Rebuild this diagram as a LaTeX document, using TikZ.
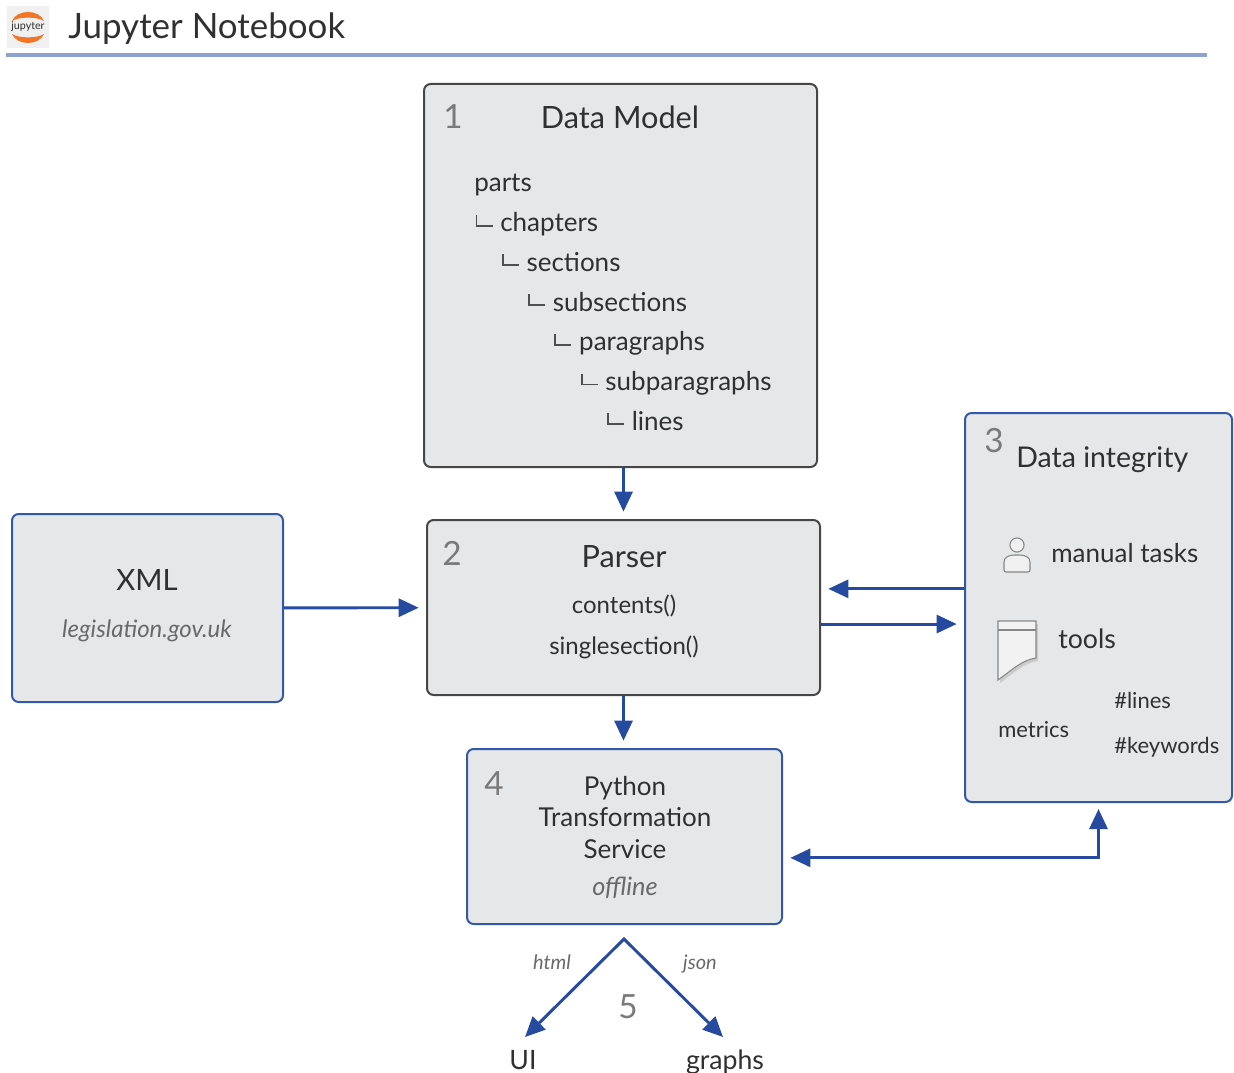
\documentclass[tikz,border=0pt]{standalone}
\usepackage{fontspec}
\setmainfont{Lato}
\usepackage{xcolor}
\usetikzlibrary{arrows.meta,fit}
\definecolor{boxgray}{RGB}{230,231,232}
\definecolor{edgedark}{RGB}{70,70,70}
\definecolor{edgeblue}{RGB}{52,88,168}
\definecolor{arrowblue}{RGB}{38,74,160}
\definecolor{txt}{RGB}{48,48,48}
\definecolor{numgray}{RGB}{122,122,122}
\definecolor{subgray}{RGB}{105,105,105}
\definecolor{rulebl}{RGB}{140,162,208}
\definecolor{jorange}{RGB}{240,118,40}
\definecolor{logobg}{RGB}{240,240,240}
\definecolor{icongray}{RGB}{135,135,135}

\begin{document}
\begin{tikzpicture}[x=0.75pt, y=-0.75pt,
    >={Triangle[length=15pt,width=13.5pt]},
    box/.style={draw=edgedark, line width=1.5pt, fill=boxgray, rounded corners=5pt, inner sep=0pt},
    bluebox/.style={box, draw=edgeblue},
    num/.style={anchor=base west, inner sep=0pt, text=numgray, font=\fontsize{25}{25}\selectfont},
    head/.style={anchor=base, inner sep=0pt, text=txt, font=\fontsize{23}{23}\selectfont},
    itemtext/.style={anchor=base, inner sep=0pt, text=txt, font=\fontsize{18}{18}\selectfont},
    smalltext/.style={anchor=base west, inner sep=0pt, text=txt, font=\fontsize{16.5}{16.5}\selectfont},
    note/.style={anchor=base, inner sep=0pt, text=subgray, font=\itshape\fontsize{18}{18}\selectfont},
    treeitem/.style={anchor=base west, inner sep=0pt, text=txt, font=\fontsize{19.5}{19.5}\selectfont},
    treeline/.style={draw=txt!85, line width=1.4pt},
    flow/.style={draw=arrowblue, line width=2.2pt, ->, shorten >=5.5pt},
    icon/.style={draw=icongray, line width=0.8pt, fill=logobg}]
    \useasboundingbox (0,0) rectangle (1234,1073);

    % header
    \fill[logobg] (7,6) rectangle (49,48);
    \fill[jorange] (12,21) .. controls (17,9) and (39,9) .. (44,21) .. controls (37,16.5) and (19,16.5) .. cycle;
    \fill[jorange] (12,34) .. controls (17,46) and (39,46) .. (44,34) .. controls (37,38.5) and (19,38.5) .. cycle;
    \node[text=txt, inner sep=0pt, font=\fontsize{8}{8}\selectfont] (logo) at (28,27) {jupyter};
    \node[anchor=base west, inner sep=0pt, text=txt, font=\fontsize{26.2}{26.2}\selectfont] (title) at (68,39) {Jupyter Notebook};
    \draw[rulebl, line width=3pt] (6,55) -- (1207,55);

    % boxes
    \node[box, fit={(424,84) (817,467)}] (model) {};
    \node[box, fit={(427,520) (820,695)}] (parser) {};
    \node[bluebox, fit={(12,514) (283,702)}] (xml) {};
    \node[bluebox, fit={(965,413) (1232,802)}] (integrity) {};
    \node[bluebox, fit={(467,749) (782,924)}] (service) {};

    % 1 data model
    \node[num] (model-num) at (443,129) {1};
    \node[head] (model-title) at (620,129) {Data Model};
    \node[treeitem] (lvl-0) at (474,192) {parts};
    \foreach \name [count=\k] in {chapters,sections,subsections,paragraphs,subparagraphs,lines}{
        \node[treeitem] (lvl-\k) at ({500+26.3*(\k-1)},{192+39.7*\k}) {\name};
        \draw[treeline] ({476.5+26.3*(\k-1)},{175+39.7*\k}) |- ++(16,11);
    }

    % 2 parser
    \node[num] (parser-num) at (442,565) {2};
    \node[head] (parser-title) at (624,567) {Parser};
    \node[itemtext] (parser-f1) at (624,613) {contents()};
    \node[itemtext] (parser-f2) at (624,654) {singlesection()};

    % xml source
    \node[head, font=\fontsize{22}{22}\selectfont] (xml-title) at (147,590) {XML};
    \node[note] (xml-src) at (147,637) {legislation.gov.uk};

    % 3 data integrity
    \node[num] (integrity-num) at (984,452) {3};
    \node[head, anchor=base west, font=\fontsize{21.4}{21.4}\selectfont] (integrity-title) at (1016,467) {Data integrity};
    \draw[icon] (1017,545) circle (5.3pt);
    \draw[icon, rounded corners=1.5pt] (1004,572) -- (1004,564) .. controls (1004,557) and (1009,555) .. (1017,555)
        .. controls (1025,555) and (1030,557) .. (1030,564) -- (1030,572) -- cycle;
    \fill[black!20] (1000,624) -- (1038,624) -- (1038,661) .. controls (1024,663) and (1014,673) .. (1000,683) -- cycle;
    \draw[icon, fill=white!95!black] (998,621) -- (1036,621) -- (1036,658) .. controls (1022,660) and (1012,670) .. (998,680) -- cycle;
    \draw[icongray, line width=0.8pt] (998,630) -- (1036,630);
    \node[itemtext, anchor=base west, font=\fontsize{19.5}{19.5}\selectfont] (manual) at (1051,562) {manual tasks};
    \node[itemtext, anchor=base west, font=\fontsize{20}{20}\selectfont] (tools) at (1058,648) {tools};
    \node[smalltext] (metrics) at (998,737) {metrics};
    \node[smalltext] (count-lines) at (1114,708) {\#lines};
    \node[smalltext] (count-keywords) at (1114,753) {\#keywords};

    % 4 transformation service
    \node[num] (service-num) at (484,795) {4};
    \foreach \word [count=\k] in {Python,Transformation,Service}
        \node[itemtext, font=\fontsize{19.5}{19.5}\selectfont] (service-l\k) at (625,{795+31.5*(\k-1)}) {\word};
    \node[note, font=\itshape\fontsize{19}{19}\selectfont] (service-mode) at (625,895) {offline};

    % 5 outputs
    \coordinate (fork) at (624,939);
    \coordinate (ui-tip) at (525,1037);
    \coordinate (graphs-tip) at (723,1037);
    \node[itemtext, font=\fontsize{20}{20}\selectfont] (ui) at (523,1069) {UI};
    \node[itemtext, font=\fontsize{20}{20}\selectfont] (graphs) at (725,1069) {graphs};
    \node[note, font=\itshape\fontsize{15}{15}\selectfont] (html) at (552,969) {html};
    \node[note, font=\itshape\fontsize{15}{15}\selectfont] (json) at (700,969) {json};
    \node[num, anchor=base] (out-num) at (628,1018) {5};

    % connectors
    \draw[flow] (model.south -| parser.north) -- (parser.north);
    \draw[flow] (parser.south) -- (parser.south |- service.north);
    \draw[flow] (xml) -- (parser);
    \draw[flow] ([yshift=14pt]integrity.west) -- ([yshift=14pt]parser.east);
    \draw[flow] ([yshift=-12.4pt]parser.east) -- ([yshift=-12.4pt]integrity.west);
    \draw[flow, <->, shorten <=4.5pt] (integrity.south) |- ([yshift=-16pt]service.east);
    \draw[flow, <->, shorten >=0pt] (ui-tip) -- (fork) -- (graphs-tip);
\end{tikzpicture}
\end{document}
